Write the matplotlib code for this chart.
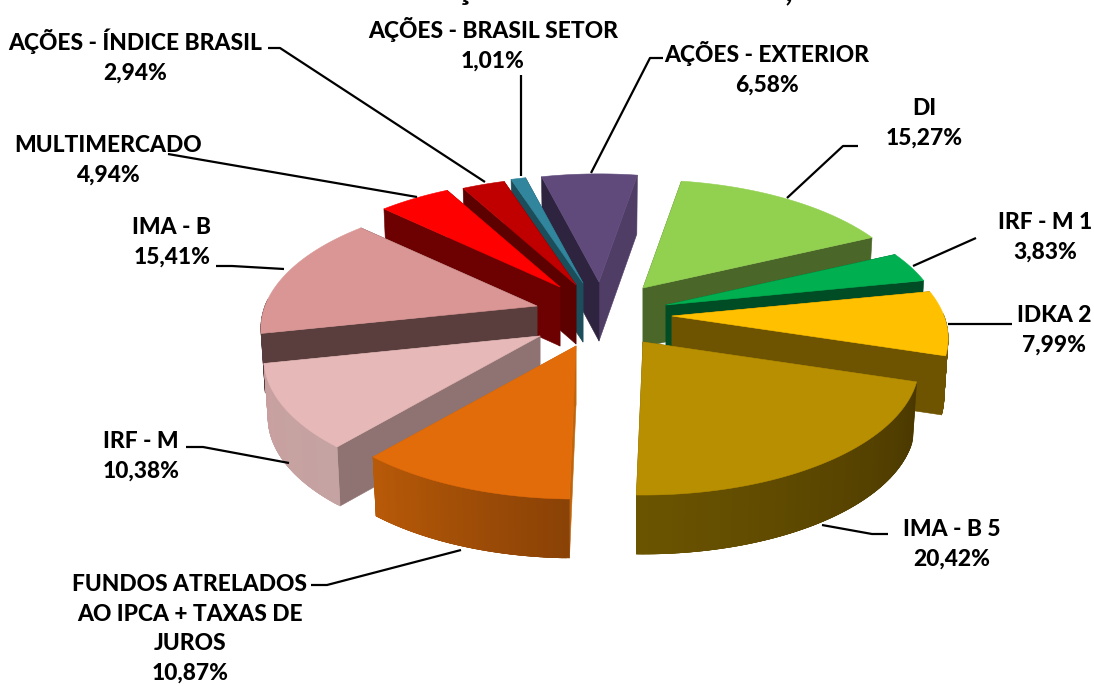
import numpy as np
import matplotlib
matplotlib.use("Agg")
import matplotlib.pyplot as plt
from matplotlib.patches import Polygon
from matplotlib.colors import to_rgb

# ---- data
categories = ["DI", "IRF - M 1", "IDKA 2", "IMA - B 5",
              "FUNDOS ATRELADOS\nAO IPCA + TAXAS DE\nJUROS", "IRF - M", "IMA - B",
              "MULTIMERCADO", "AÇÕES - ÍNDICE BRASIL", "AÇÕES - BRASIL SETOR",
              "AÇÕES - EXTERIOR"]
values = [15.27, 3.83, 7.99, 20.42, 10.87, 10.38, 15.41, 4.94, 2.94, 1.01, 6.58]
value_labels = ["15,27%", "3,83%", "7,99%", "20,42%", "10,87%", "10,38%", "15,41%",
                "4,94%", "2,94%", "1,01%", "6,58%"]

# ---- styles
top_colors = ["#92d050", "#00b050", "#ffc000", "#b88f00", "#e26b0a", "#e6b8b7",
              "#d99694", "#ff0000", "#c00000", "#31859c", "#604a7b"]
start_wall = ["#4a6628", "#004d25", "#6e5400", "#6b5400", "#c0650b", "#8f7372",
              "#5a3e3e", "#6d0000", "#5c0000", "#1c4d5a", "#2e2440"]
end_wall = ["#4a6628", "#004d25", "#6e5400", "#6b5400", "#c0650b", "#8f7372",
            "#5a3e3e", "#5f0000", "#4f0000", "#1c4d5a", "#4f3d66"]
rim_a = ["#4a6628", "#004d25", "#6e5400", "#4a3800", "#8a4206", "#c4a3a2",
         "#5a3e3e", "#6d0000", "#5c0000", "#1c4d5a", "#4f3d66"]
rim_b = ["#4a6628", "#004d25", "#6e5400", "#6b5400", "#b85a08", "#c9a09f",
         "#5a3e3e", "#6d0000", "#5c0000", "#1c4d5a", "#4f3d66"]
# how far each slice is pulled out of the pie, in pixels
pull_x = [43, 66, 72, 43, -24, -60, -63, -40, -24, -17, -1]
pull_y = [-30, -13, -2, 24, 28, 18, -12, -31, -33, -35, -36]
draw_order = [10, 9, 8, 7, 0, 6, 1, 2, 5, 3, 4]

START_DEG = 9.5
CX, CY = 600.0, 318.0
R, K, P = 272.0, 126.7, 0.172
DEPTH = 59.0
BOTTOM_SCALE = 0.985


def project(u, v):
    w = 1 - P * v
    return R * u / w, K * v / w


fig = plt.figure(figsize=(10.94, 6.86), dpi=100)
ax = fig.add_axes([0, 0, 1, 1])
ax.set_xlim(0, 1094)
ax.set_ylim(686, 0)
ax.axis("off")

vals = np.array(values)
edges = START_DEG + 360 * np.concatenate([[0], np.cumsum(vals)]) / vals.sum()


def lerp(c1, c2, t):
    a, b = np.array(to_rgb(c1)), np.array(to_rgb(c2))
    return tuple(a + (b - a) * t)


def poly(pts, color, z):
    ax.add_patch(Polygon(pts, closed=True, facecolor=color, edgecolor=color,
                         lw=0.4, zorder=z, joinstyle="round"))


z = 1
for i in draw_order:
    a0, a1 = edges[i], edges[i + 1]
    ax0, ay0 = CX + pull_x[i], CY + pull_y[i]

    th = np.radians(np.linspace(a0, a1, 70))
    us, vs = np.sin(th), -np.cos(th)
    px, py = project(us, vs)
    top = np.column_stack([ax0 + px, ay0 + py])
    bot = np.column_stack([ax0 + px * BOTTOM_SCALE, ay0 + py + DEPTH])
    ap_t = np.array([ax0, ay0])
    ap_b = np.array([ax0, ay0 + DEPTH])

    walls = [(top[0][1], [ap_t, top[0], bot[0], ap_b], start_wall[i]),
             (top[-1][1], [ap_t, top[-1], bot[-1], ap_b], end_wall[i])]
    walls.sort(key=lambda t: t[0])
    for _, pts, col in walls:
        poly(pts, col, z)
    z += 1
    n = len(th)
    for j in range(n - 1):
        if vs[j] > -0.02:
            k = min(j + 3, n - 1)  # overlap the next strips so no seams show
            t = j / (n - 2)
            poly(np.vstack([top[j:k + 1], bot[j:k + 1][::-1]]),
                 lerp(rim_a[i], rim_b[i], t), z)
    z += 1
    poly(np.vstack([ap_t, top]), top_colors[i], z)
    z += 1

# ---- labels and leader lines
label_pos = {0: (924, 123), 1: (1045, 237), 2: (1054, 330),
             3: (952, 544), 4: (190, 629), 5: (141, 456),
             6: (172, 242), 7: (108, 160), 8: (135, 56),
             9: (493, 44), 10: (767, 68)}
FS = 16.4
for i, (x, y) in label_pos.items():
    ax.text(x, y, categories[i] + "\n" + value_labels[i], ha="center", va="center",
            fontsize=FS, fontweight=900, family="Lato", color="black",
            linespacing=1.5, zorder=50)

leader_lines = {
    0: [(858, 146), (843, 146), (787, 198)],
    1: [(976, 238), (913, 266)],
    2: [(1012, 324), (948, 324)],
    3: [(888, 534), (872, 534), (822, 525)],
    4: [(311, 585), (327, 585), (461, 550)],
    5: [(186, 447), (203, 447), (289, 463)],
    6: [(216, 266), (232, 266), (284, 269)],
    7: [(168, 154), (417, 197)],
    8: [(268, 48), (280, 48), (485, 182)],
    9: [(521, 75), (521, 176)],
    10: [(663, 58), (650, 58), (591, 173)],
}
for pts in leader_lines.values():
    xs, ys = zip(*pts)
    ax.plot(xs, ys, color="black", lw=1.6, zorder=40, solid_capstyle="butt")

# clipped title: only descenders remain above the frame
ax.text(463, 5, "Ç", ha="center", va="bottom", fontsize=24, fontweight="bold",
        family="Lato", clip_on=False)
ax.text(789, 5, ",", ha="center", va="bottom", fontsize=24, fontweight="bold",
        family="Lato", clip_on=False)

fig.savefig("out.png", dpi=100, facecolor="white")
